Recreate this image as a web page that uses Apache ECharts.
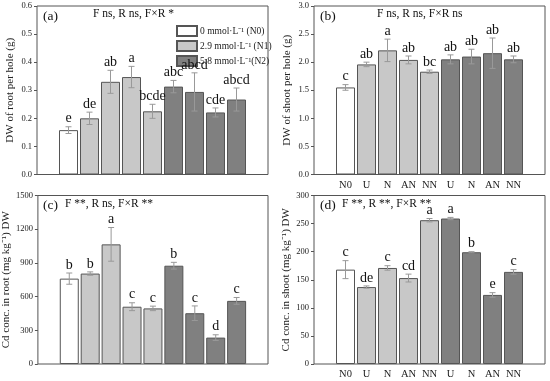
<!DOCTYPE html>
<html><head><meta charset="utf-8">
<script src="https://cdn.jsdelivr.net/npm/echarts@6/dist/echarts.min.js"></script>
<style>html,body{margin:0;padding:0;background:#fff}#c{width:550px;height:381px}</style>
</head><body><div id="c"></div>
<script>
const categories = ['N0','U','N','AN','NN','U','N','AN','NN'];
const nLevel = ['N0','N1','N1','N1','N1','N2','N2','N2','N2'];
const levelNames = {N0:'0 mmol·L\u207B\u00B9 (N0)', N1:'2.9 mmol·L\u207B\u00B9 (N1)', N2:'5.8 mmol·L\u207B\u00B9(N2)'};

const rootDW = [0.158,0.200,0.330,0.347,0.225,0.313,0.294,0.221,0.267];
const rootDWErr = [0.012,0.022,0.041,0.038,0.025,0.022,0.068,0.016,0.041];
const rootDWLetters = ['e','de','ab','a','bcde','abc','abcd','cde','abcd'];

const shootDW = [1.55,1.96,2.21,2.04,1.83,2.05,2.10,2.16,2.05];
const shootDWErr = [0.05,0.04,0.20,0.07,0.03,0.08,0.13,0.27,0.06];
const shootDWLetters = ['c','ab','a','ab','bc','ab','ab','ab','ab'];

const rootCd = [760,805,1065,510,495,875,452,235,562];
const rootCdErr = [50,15,150,35,20,30,65,25,30];
const rootCdLetters = ['b','b','a','c','c','b','c','d','c'];

const shootCd = [168,137,171,153,256,259,199,123,164];
const shootCdErr = [16,2,4,7,3,2,1,4,4];
const shootCdLetters = ['c','de','c','cd','a','a','b','e','c'];

const yNames = ['DW of root per hole (g)','DW of shoot per hole (g)','Cd conc. in root (mg kg\u207B\u00B9) DW','Cd conc. in shoot (mg kg\u207B\u00B9) DW'];
const yMax = [0.6,3.0,1500,300];
const yInt = [0.1,0.5,300,50];
const panelTags = ['(a)','(b)','(c)','(d)'];
const panelStats = ['F ns, R ns, F\u00D7R *','F ns, R ns, F\u00D7R ns','F **, R ns, F\u00D7R **','F **, R **, F\u00D7R **'];

const FONT = '"Liberation Serif","Times New Roman",serif';
const colors = {N0:'#ffffff', N1:'#c8c8c8', N2:'#808080'};
const panels = [
  {v:rootDW,e:rootDWErr,l:rootDWLetters},
  {v:shootDW,e:shootDWErr,l:shootDWLetters},
  {v:rootCd,e:rootCdErr,l:rootCdLetters},
  {v:shootCd,e:shootCdErr,l:shootCdLetters}
];
const grids = [
  {left:37, top:6, width:231, height:168.5},
  {left:314, top:6, width:231, height:168.5},
  {left:37, top:195.5, width:231, height:168.5},
  {left:314, top:195.5, width:231, height:168.5}
];
const padCats = [''].concat(categories, ['']);

const xAxis = [], yAxis = [], series = [], graphic = [];
panels.forEach((p, k) => {
  xAxis.push({type:'category', gridIndex:k, data:padCats, boundaryGap:true,
    axisLine:{show:false}, axisTick:{show:false}, splitLine:{show:false},
    axisLabel:{show:(k===1||k===3), interval:0, fontFamily:FONT, fontSize:10.5, color:'#222', margin:5}});
  const dec = yMax[k] < 10 ? 1 : 0;
  yAxis.push({type:'value', gridIndex:k, min:0, max:yMax[k], interval:yInt[k],
    name:yNames[k], nameLocation:'middle', nameGap:(k===2||k===3)?22:21,
    nameTextStyle:{fontFamily:FONT, fontSize:11, color:'#222'},
    axisLine:{show:false}, splitLine:{show:false},
    axisTick:{show:true, length:3, inside:false, lineStyle:{color:'#555'}},
    axisLabel:{fontFamily:FONT, fontSize:8.5, color:'#222', margin:5, formatter:v=>v.toFixed(dec)}});
  ['N0','N1','N2'].forEach(lvl => {
    series.push({type:'bar', name:levelNames[lvl], xAxisIndex:k, yAxisIndex:k,
      barWidth:19, barGap:'-100%',
      itemStyle:{color:colors[lvl], borderColor:'#555', borderWidth:1},
      data:['-'].concat(p.v.map((v,i)=> nLevel[i]===lvl ? v : '-'), ['-']),
      silent:true, animation:false});
  });
  series.push({type:'custom', xAxisIndex:k, yAxisIndex:k, animation:false, silent:true, z:5,
    data:p.v.map((v,i)=>[i+1, v, p.e[i]]),
    encode:{x:0, y:1},
    renderItem:(params, api) => {
      const i = params.dataIndex;
      const x = api.value(0), m = api.value(1), e = api.value(2);
      const top = api.coord([x, m+e]), bot = api.coord([x, m-e]);
      const c = 3;
      return {type:'group', children:[
        {type:'line', shape:{x1:top[0],y1:top[1],x2:bot[0],y2:bot[1]}, style:{stroke:'#999', lineWidth:1}},
        {type:'line', shape:{x1:top[0]-c,y1:top[1],x2:top[0]+c,y2:top[1]}, style:{stroke:'#999', lineWidth:1}},
        {type:'line', shape:{x1:bot[0]-c,y1:bot[1],x2:bot[0]+c,y2:bot[1]}, style:{stroke:'#999', lineWidth:1}},
        {type:'text', x:top[0], y:top[1]-1, style:{text:p.l[i], fill:'#111', font:'14px '+FONT, textAlign:'center', textVerticalAlign:'bottom'}}
      ]};
    }});
  const g = grids[k];
  graphic.push({type:'text', left:g.left+6, top:g.top+3, style:{text:panelTags[k], fill:'#111', font:'13.5px '+FONT}});
});
graphic.push({type:'text', left:93, top:8, style:{text:panelStats[0], fill:'#111', font:'11.5px '+FONT}});
graphic.push({type:'text', left:377, top:8, style:{text:panelStats[1], fill:'#111', font:'11.5px '+FONT}});
graphic.push({type:'text', left:65, top:198, style:{text:panelStats[2], fill:'#111', font:'11.5px '+FONT}});
graphic.push({type:'text', left:342, top:198, style:{text:panelStats[3], fill:'#111', font:'11.5px '+FONT}});

const chart = echarts.init(document.getElementById('c'), null, {renderer:'canvas'});
chart.setOption({
  animation:false,
  grid:grids.map(g=>Object.assign({show:true, borderColor:'#555', borderWidth:1, backgroundColor:'transparent'}, g)),
  legend:{data:[levelNames.N0, levelNames.N1, levelNames.N2], orient:'vertical', left:171, top:20,
    itemWidth:20, itemHeight:10, itemGap:3, icon:'rect', selectedMode:false,
    textStyle:{fontFamily:FONT, fontSize:9.5, color:'#222', padding:[0,0,0,-2]}},
  xAxis, yAxis, series, graphic
});
</script></body></html>
